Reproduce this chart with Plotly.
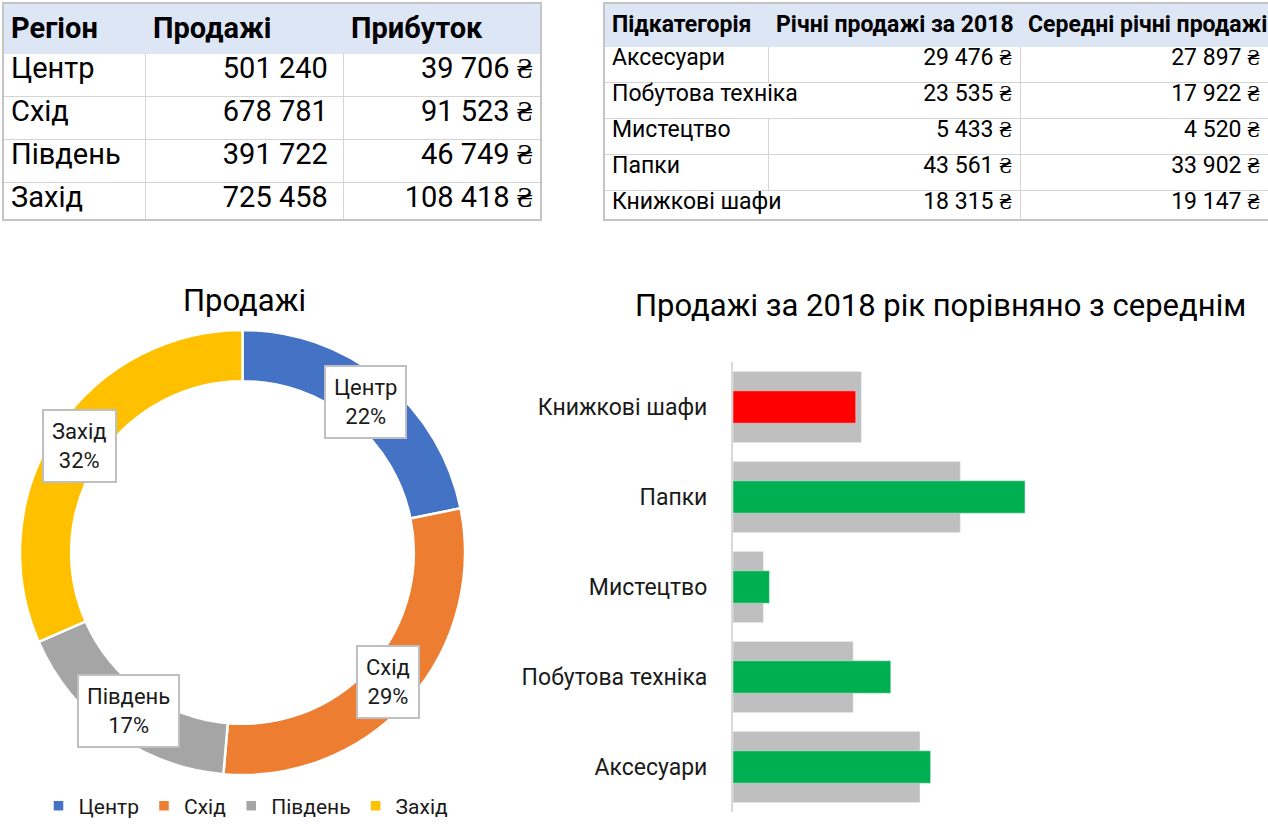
import math
import plotly.graph_objects as go

W, H = 1268, 832
FONT = "Roboto"

# table 1: regions
regions = ["Центр", "Схід", "Південь", "Захід"]
region_sales = [501240, 678781, 391722, 725458]
region_profit = [39706, 91523, 46749, 108418]

# table 2: subcategories
subcats = ["Аксесуари", "Побутова техніка", "Мистецтво", "Папки", "Книжкові шафи"]
sales_2018 = [29476, 23535, 5433, 43561, 18315]
sales_avg = [27897, 17922, 4520, 33902, 19147]

region_colors = ["#4472C4", "#ED7D31", "#A5A5A5", "#FFC000"]
NB = "\u00a0"
CLEAR = "rgba(0,0,0,0)"
GRID = "#d4d4d4"
HDR = "#dde6f4"


def fmt(v, cur=False):
    s = f"{v:,}".replace(",", " ")
    return s + " ₴" if cur else s


def px_x(p):
    return p / W


def px_y(p):
    return 1 - p / H


def pct_labels(vals):
    # whole percents that add up to 100 (largest remainder)
    tot = sum(vals)
    raw = [v / tot * 100 for v in vals]
    out = [math.floor(r) for r in raw]
    order = sorted(range(len(raw)), key=lambda i: raw[i] - out[i], reverse=True)
    for i in order[:100 - sum(out)]:
        out[i] += 1
    return out


def text_layer(x0, x1, widths, cols, align, size, hdr_h, row_h):
    # transparent table that only carries the cell text
    return go.Table(
        domain=dict(x=[px_x(x0), px_x(x1)], y=[px_y(220), px_y(3)]),
        columnwidth=widths,
        header=dict(values=[""] * len(cols), height=hdr_h,
                    fill_color=CLEAR, line_color=CLEAR),
        cells=dict(values=cols, align=align, height=row_h,
                   fill_color=CLEAR, line_color=CLEAR,
                   font=dict(family=FONT, size=size, color="black")),
    )


fig = go.Figure()

# ---- table 1 ----
fig.add_trace(go.Table(
    domain=dict(x=[px_x(3), px_x(541)], y=[px_y(220), px_y(3)]),
    columnwidth=[142, 198, 198],
    header=dict(values=["<b>Регіон</b>", "<b>Продажі</b>", "<b>Прибуток</b>"],
                align="left", height=45, fill_color=HDR, line_color=HDR,
                font=dict(family=FONT, size=29, color="black")),
    cells=dict(values=[[""] * len(regions)] * 3, height=43,
               fill_color="white", line_color=GRID),
))
fig.add_trace(text_layer(3, 541, [142, 198, 198],
                         [regions, [fmt(v) + NB for v in region_sales],
                          [fmt(v, True) for v in region_profit]],
                         ["left", "right", "right"], 29, 45, 43))

# ---- table 2 ----
# long names spill into the next cell, so that cell border is dropped there
spill = [len(s) > 12 for s in subcats]
line2 = [[CLEAR if sp else GRID for sp in spill]] * 2 + [[GRID] * len(subcats)]
fill2 = [[CLEAR if sp else "white" for sp in spill]] * 2 + [["white"] * len(subcats)]
fig.add_trace(go.Table(
    domain=dict(x=[px_x(604), 1], y=[px_y(220), px_y(3)]),
    columnwidth=[164, 252, 248],
    header=dict(values=["<b>Підкатегорія</b>",
                        "<b>" + "Річні продажі за 2018".replace(" ", NB) + "</b>",
                        "<b>" + "Середні річні продажі".replace(" ", NB) + "</b>"],
                align="left", height=37, fill_color=HDR, line_color=HDR,
                font=dict(family=FONT, size=23, color="black")),
    cells=dict(values=[[""] * len(subcats)] * 3, height=36,
               fill_color=fill2, line_color=line2),
))
fig.add_trace(text_layer(604, 1020, [1], [subcats], "left", 23, 37, 36))
fig.add_trace(text_layer(768, W, [252, 248],
                         [[fmt(v, True) for v in sales_2018],
                          [fmt(v, True) for v in sales_avg]],
                         "right", 23, 37, 36))

# ---- donut ----
pie_x = [px_x(20), px_x(465)]
pie_y = [px_y(775), px_y(330)]
hole = 0.77
fig.add_trace(go.Pie(
    labels=regions, values=region_sales, hole=hole, sort=False,
    direction="clockwise", rotation=0, textinfo="none",
    marker=dict(colors=region_colors, line=dict(color="white", width=2.5)),
    domain=dict(x=pie_x, y=pie_y), hoverinfo="label+percent",
))

total = sum(region_sales)
pcts = pct_labels(region_sales)
cx = (pie_x[0] + pie_x[1]) / 2 * W
cy = (1 - (pie_y[0] + pie_y[1]) / 2) * H
r_out = (pie_x[1] - pie_x[0]) * W / 2
r_mid = r_out * (1 + hole) / 2 - 2
cum = 0
for name, v, p in zip(regions, region_sales, pcts):
    mid = (cum + v / 2) / total * 2 * math.pi
    cum += v
    lx = cx + r_mid * math.sin(mid)
    ly = cy - r_mid * math.cos(mid)
    fig.add_annotation(x=lx / W, y=1 - ly / H, xref="paper", yref="paper",
                       xanchor="center", yanchor="middle",
                       text=f"{name}<br>{p}%",
                       showarrow=False, bgcolor="white", bordercolor="#bfbfbf",
                       borderwidth=2, borderpad=8,
                       font=dict(family=FONT, size=22, color="#1a1a1a"))

fig.add_annotation(x=px_x(244), y=px_y(300), xref="paper", yref="paper",
                   xanchor="center", yanchor="middle",
                   text="Продажі", showarrow=False,
                   font=dict(family=FONT, size=31, color="black"))

# ---- bars ----
bar_colors = ["#00B050" if a >= b else "#FF0000" for a, b in zip(sales_2018, sales_avg)]
fig.add_trace(go.Bar(y=subcats, x=sales_avg, orientation="h", width=0.79,
                     marker_color="#BFBFBF", showlegend=False, name="Середні"))
fig.add_trace(go.Bar(y=subcats, x=sales_2018, orientation="h", width=0.36,
                     marker_color=bar_colors, showlegend=False, name="2018"))

fig.add_annotation(x=px_x(940), y=px_y(305), xref="paper", yref="paper",
                   xanchor="center", yanchor="middle",
                   text="Продажі за 2018 рік порівняно з середнім", showarrow=False,
                   font=dict(family=FONT, size=31, color="black"))

# table frames
for x0, x1 in [(3, 541), (604, 1275)]:
    fig.add_shape(type="rect", xref="paper", yref="paper",
                  x0=px_x(x0), x1=px_x(x1), y0=px_y(220), y1=px_y(3),
                  line=dict(color="#c4c4c4", width=2))

fig.update_layout(
    width=W, height=H, margin=dict(l=0, r=0, t=0, b=0),
    paper_bgcolor="white", plot_bgcolor="white",
    barmode="overlay",
    xaxis=dict(domain=[px_x(733), px_x(1260)], range=[0, 78620],
               showticklabels=False, showgrid=False, zeroline=False, ticks=""),
    yaxis=dict(domain=[px_y(812), px_y(362)], range=[-0.5, 4.5],
               showline=True, linecolor="#d9d9d9", linewidth=2,
               showgrid=False, ticks="", ticklabelstandoff=19,
               tickfont=dict(family=FONT, size=23, color="#1a1a1a")),
    legend=dict(orientation="h", x=px_x(246), xanchor="center",
                y=px_y(806), yanchor="middle",
                font=dict(family=FONT, size=21, color="#1a1a1a"),
                itemwidth=30, traceorder="normal"),
    font=dict(family=FONT),
)

fig.write_html("out.html", config=dict(displayModeBar=False),
               post_script="document.body.style.margin = '0';")
